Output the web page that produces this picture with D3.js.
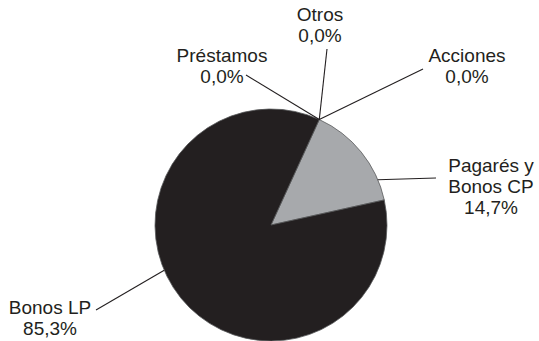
<!DOCTYPE html>
<html>
<head>
<meta charset="utf-8">
<script src="https://cdn.jsdelivr.net/npm/d3@7"></script>
<style>
  html, body { margin: 0; padding: 0; background: #fff; }
  svg { display: block; }
  text { font-family: "Liberation Sans", Arial, sans-serif; font-size: 19px; fill: #231f20; }
</style>
</head>
<body>
<svg id="chart" width="539" height="341"></svg>
<script>
// ---- data ----
const categories = ["Acciones", "Pagarés y Bonos CP", "Bonos LP", "Préstamos", "Otros"];
const values = [0.0, 14.7, 85.3, 0.0, 0.0];
const labelLines = [
  ["Acciones", "0,0%"],
  ["Pagarés y", "Bonos CP", "14,7%"],
  ["Bonos LP", "85,3%"],
  ["Préstamos", "0,0%"],
  ["Otros", "0,0%"]
];
const colors = ["#a7a9ac", "#a7a9ac", "#231f20", "#231f20", "#231f20"];

// ---- layout (label placement) ----
const labelPos = [
  { x: 467, y: 62, lx: 423, ly: 69 },
  { x: 491, y: 172, lx: 436, ly: 178, a: 67 },
  { x: 50, y: 314, lx: 96, ly: 310, a: 247 },
  { x: 222, y: 62, lx: 246, ly: 75 },
  { x: 320, y: 21, lx: 327, ly: 49 }
];
const lineH = 21;

const svg = d3.select("#chart");
const cx = 271, cy = 225, r = 116;
const startDeg = 24.6;

const pie = d3.pie().sort(null).value(d => d)
  .startAngle(startDeg * Math.PI / 180)
  .endAngle((startDeg + 360) * Math.PI / 180);
const arcs = pie(values);
const arc = d3.arc().innerRadius(0).outerRadius(r);

const g = svg.append("g").attr("transform", `translate(${cx},${cy})`);
g.selectAll("path.slice")
  .data(arcs.filter(d => d.value > 0))
  .join("path")
  .attr("class", "slice")
  .attr("d", arc)
  .attr("fill", d => colors[d.index])
  .attr("stroke", "#58595b")
  .attr("stroke-width", 0.8);

// leader lines
arcs.forEach((d, i) => {
  const p = labelPos[i];
  const ang = p.a !== undefined ? p.a * Math.PI / 180 : d.startAngle;
  const [sx, sy] = d3.pointRadial(ang, r);
  svg.append("line")
    .attr("x1", cx + sx).attr("y1", cy + sy)
    .attr("x2", p.lx).attr("y2", p.ly)
    .attr("stroke", "#231f20").attr("stroke-width", 1.1);
});

// labels
labelLines.forEach((lines, i) => {
  const p = labelPos[i];
  const t = svg.append("text").attr("text-anchor", "middle");
  lines.forEach((s, j) => {
    t.append("tspan").attr("x", p.x).attr("y", p.y + j * lineH).text(s);
  });
});
</script>
</body>
</html>
